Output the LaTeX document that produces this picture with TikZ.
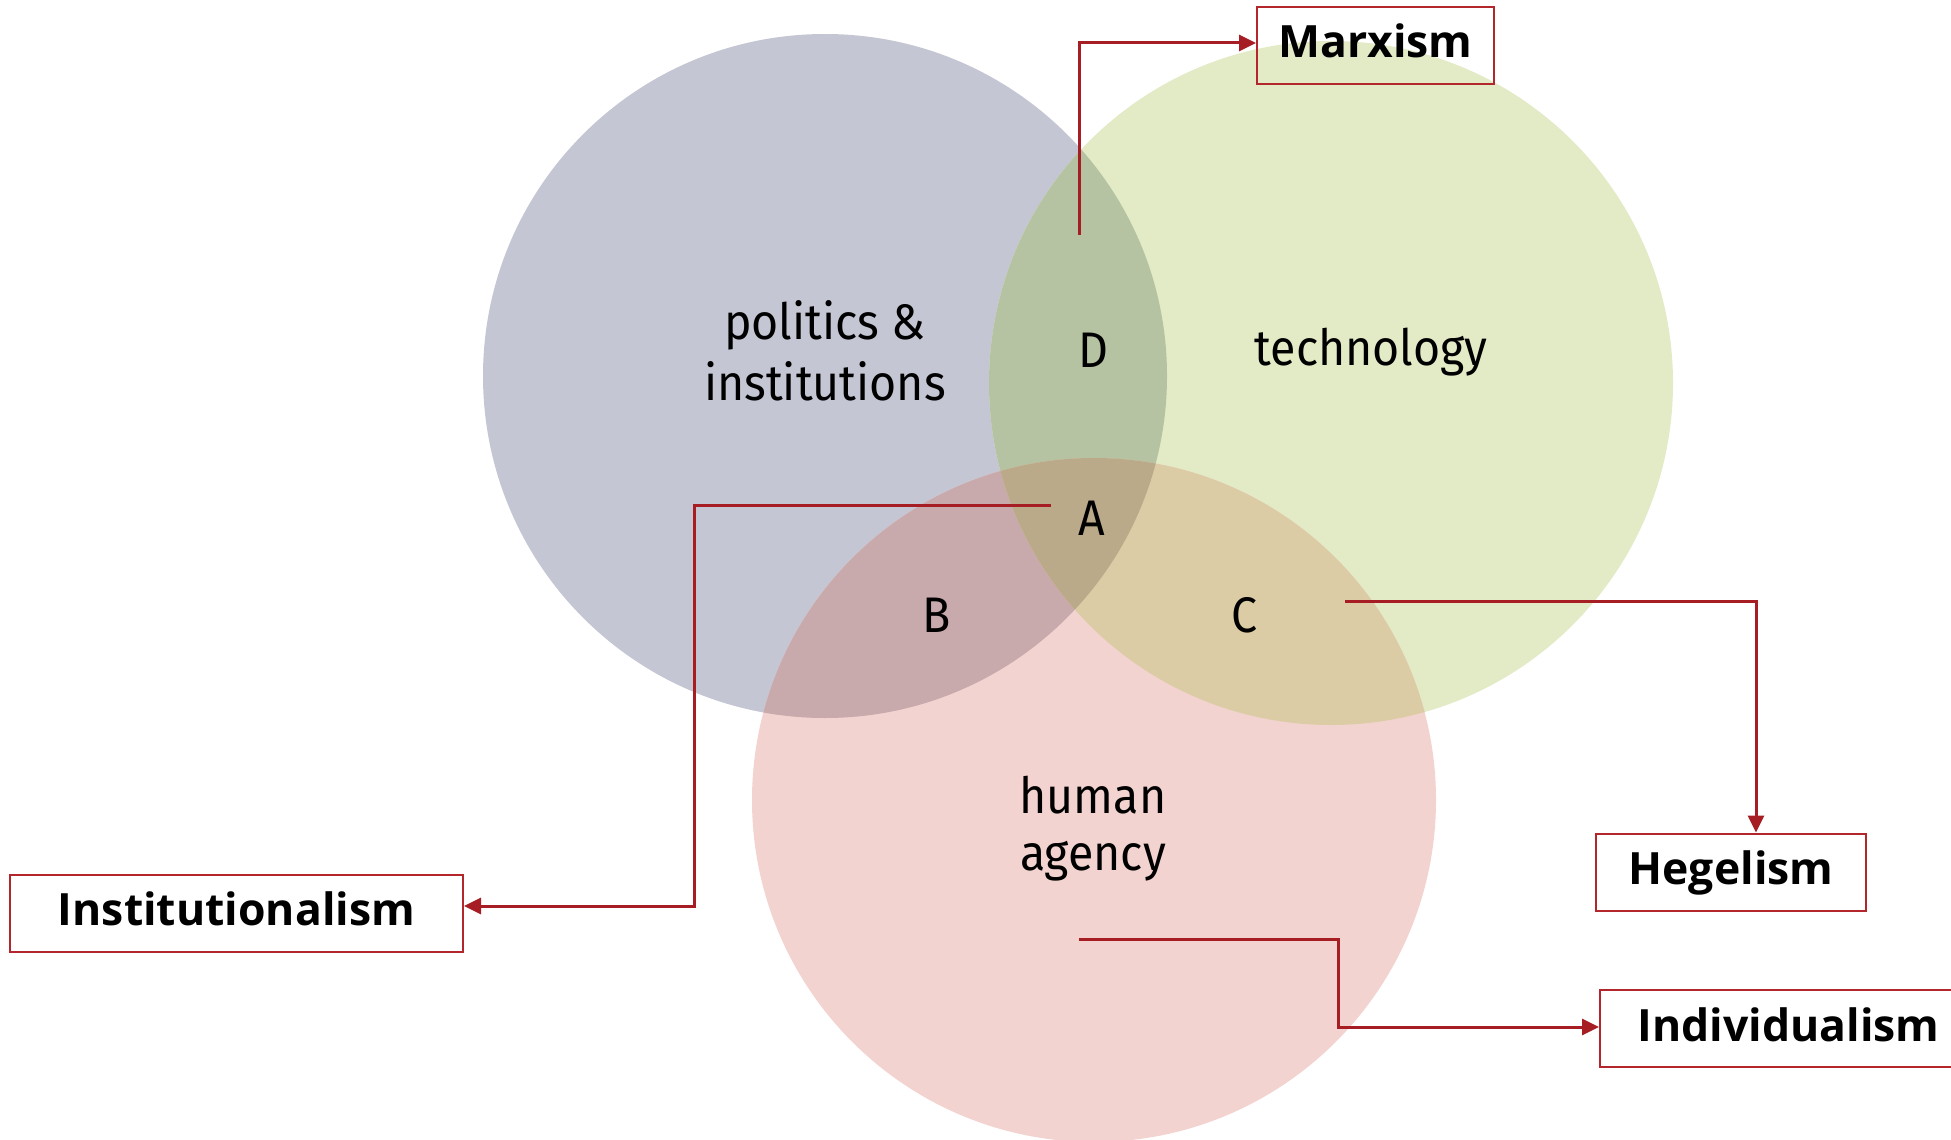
\documentclass[tikz,border=0pt]{standalone}
\usepackage{fontspec}
\newfontfamily\dinfont{Fira Sans}[FakeStretch=0.93]
\newfontfamily\labfont{Open Sans}
\usetikzlibrary{arrows.meta}
\definecolor{cpol}{HTML}{C4C6D3}
\definecolor{ctech}{HTML}{E3EAC6}
\definecolor{chum}{HTML}{F2D3D0}
\definecolor{cD}{HTML}{B6C3A2}
\definecolor{cB}{HTML}{C8A9AC}
\definecolor{cA}{HTML}{BBAA89}
\definecolor{cC}{HTML}{DCCCA5}
\definecolor{linered}{HTML}{A61E24}
\definecolor{boxred}{HTML}{B2262C}
\tikzset{
  venntext/.style={font=\dinfont\fontsize{50}{60}\selectfont, anchor=base, inner sep=0pt},
  labbox/.style={draw=boxred, line width=2pt, font=\labfont\bfseries\fontsize{44.5}{54}\selectfont,
    text height=33pt, text depth=8pt, inner sep=0pt, minimum height=77pt},
  conn/.style={draw=linered, line width=3pt, -{Triangle[length=17pt,width=16pt]}},
}
\begin{document}
\begin{tikzpicture}[x=1pt,y=-1pt]
\useasboundingbox (0,0) rectangle (1951,1140);
\def\cpolpath{(825,376) circle[radius=342]}
\def\ctechpath{(1331,383) circle[radius=342]}
\def\chumpath{(1094,800) circle[radius=342]}
% circles
\fill[cpol] \cpolpath;
\fill[ctech] \ctechpath;
\fill[chum] \chumpath;
% overlaps
\begin{scope}
  \clip \cpolpath;
  \fill[cD] \ctechpath;
\end{scope}
\begin{scope}
  \clip \cpolpath;
  \fill[cB] \chumpath;
\end{scope}
\begin{scope}
  \clip \ctechpath;
  \fill[cC] \chumpath;
\end{scope}
\begin{scope}
  \clip \cpolpath;
  \clip \ctechpath;
  \fill[cA] \chumpath;
\end{scope}
% venn texts
\node[venntext] (pol1) at (825,339) {politics \&};
\node[venntext] (pol2) at (825,400) {institutions};
\node[venntext] (tech) at (1371,365) {technology};
\node[venntext] (hum1) at (1093,813) {human};
\node[venntext] (hum2) at (1093,870) {agency};
\node[venntext] (lD) at (1093,367) {D};
\node[venntext] (lA) at (1092,535) {A};
\node[venntext] (lB) at (937,632) {B};
\node[venntext] (lC) at (1245,632) {C};
% label boxes
\node[labbox, minimum width=237pt] (marx) at (1375.5,45.5) {Marxism};
\node[labbox, minimum width=453pt] (inst) at (236.5,913) {Institutionalism};
\node[labbox, minimum width=270pt] (heg) at (1731,872) {Hegelism};
\node[labbox, minimum width=356pt, anchor=west] (indiv) at (1599,1028.5) {\hspace*{21pt}Individualism\hfill};
% connectors
\coordinate (mst) at (1079,235);
\coordinate (mk) at (1079,43);
\draw[conn] (mst) -- (mk) -- (mk -| marx.west);
\coordinate (ast) at (1051,505);
\coordinate (ik) at (694,906);
\draw[conn] (ast) -| (ik) -- (ik -| inst.east);
\coordinate (cst) at (1345,601);
\coordinate (hk) at (1756,601);
\draw[conn] (cst) -- (hk) -- (hk |- heg.north);
\coordinate (hst) at (1079,939);
\coordinate (dk) at (1338,1027);
\draw[conn] (hst) -| (dk) -- (dk -| indiv.west);
\end{tikzpicture}
\end{document}
